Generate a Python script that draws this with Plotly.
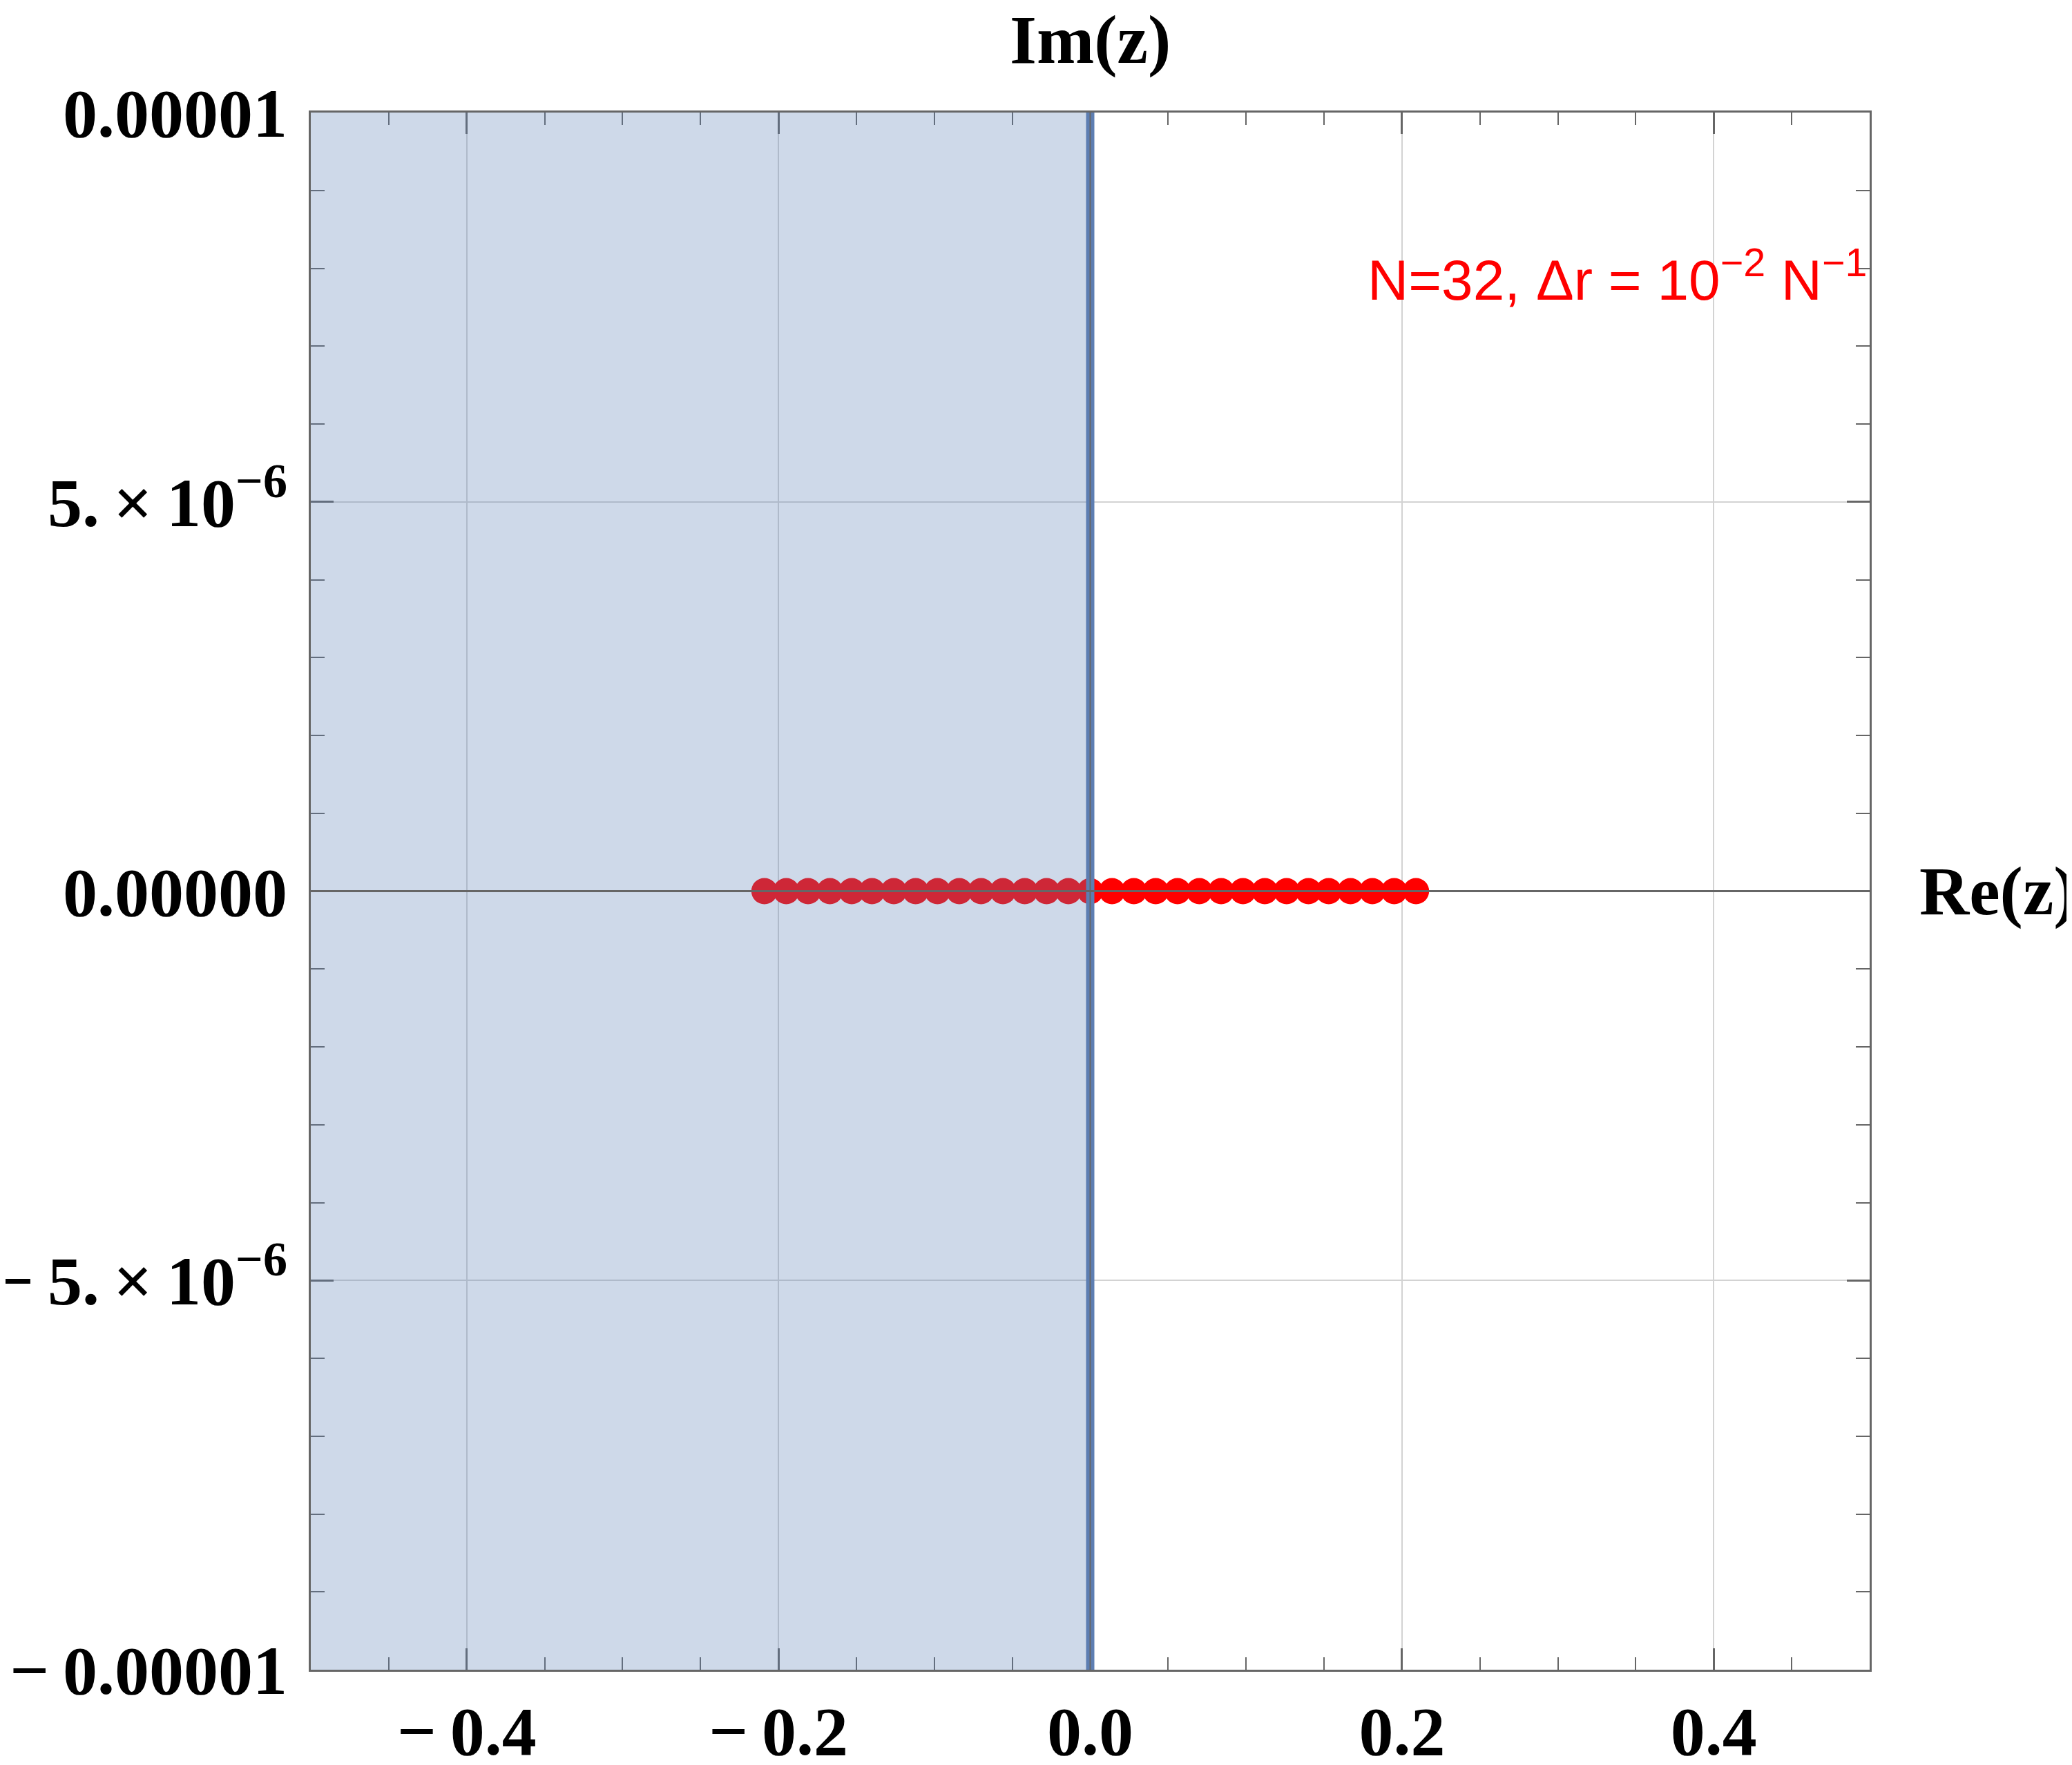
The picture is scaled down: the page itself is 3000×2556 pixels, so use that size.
import plotly.graph_objects as go

# Data
re_vals = [-0.209, -0.195, -0.181, -0.167, -0.153, -0.140, -0.126, -0.112, -0.098,
           -0.084, -0.070, -0.056, -0.042, -0.028, -0.014, 0.0,
           0.014, 0.028, 0.042, 0.056, 0.070, 0.084, 0.098, 0.112, 0.126,
           0.140, 0.153, 0.167, 0.181, 0.195, 0.209]
im_vals = [0.0] * len(re_vals)

x_tickvals = [-0.4, -0.2, 0.0, 0.2, 0.4]
x_ticktext = ["\u2212\u20090.4", "\u2212\u20090.2", "0.0", "0.2", "0.4"]
y_tickvals = [-1e-5, -5e-6, 0.0, 5e-6, 1e-5]
y_ticktext = ["\u2212\u20090.00001", "\u2212\u20095.\u2009\u00d7\u200910<sup>\u22126</sup>", "0.00000",
              "5.\u2009\u00d7\u200910<sup>\u22126</sup>", "0.00001"]

x_range = [-0.5, 0.5]
y_range = [-1e-5, 1e-5]

frame_col = "#666666"
grid_col = "#D3D3D3"
shade_col = "rgb(94,129,181)"
tick_font = dict(family="Liberation Serif", size=100, color="black", weight="bold")

fig = go.Figure()
fig.add_trace(go.Scatter(
    x=re_vals, y=im_vals, mode="markers",
    marker=dict(size=38, color="#FF0000", line=dict(width=0)),
    showlegend=False, hoverinfo="skip"))

fig.update_layout(
    width=2992, height=2548,
    margin=dict(l=442, r=293, t=155, b=138),
    paper_bgcolor="white", plot_bgcolor="white",
    showlegend=False,
    shapes=[
        dict(type="rect", xref="x", yref="y", x0=x_range[0], x1=0, y0=y_range[0], y1=y_range[1],
             fillcolor=shade_col, opacity=0.3, line=dict(width=0), layer="above"),
        dict(type="line", xref="x", yref="y", x0=0, x1=0, y0=y_range[0], y1=y_range[1],
             line=dict(color="rgb(93,126,178)", width=12), layer="above"),
        dict(type="line", xref="x", yref="y", x0=0, x1=0, y0=y_range[0], y1=y_range[1],
             line=dict(color=frame_col, width=2), layer="above"),
        dict(type="line", xref="x", yref="y", x0=x_range[0], x1=x_range[1], y0=0, y1=0,
             line=dict(color=frame_col, width=3), layer="above"),
    ],
    annotations=[
        dict(text="Im(z)", xref="paper", yref="paper", x=0.5, y=1.047, xanchor="center", yanchor="middle",
             showarrow=False, font=dict(family="Liberation Serif", size=100, color="black", weight="bold")),
        dict(text="Re(z)", xref="paper", yref="paper", x=1.031, y=0.5, xanchor="left", yanchor="middle",
             showarrow=False, font=dict(family="Liberation Serif", size=100, color="black", weight="bold")),
        dict(text="N=32, \u0394r = 10<sup>\u22122</sup> N<sup>\u22121</sup>", xref="x", yref="y",
             x=0.4995, y=7.9e-6, xanchor="right", yanchor="middle", showarrow=False,
             font=dict(family="Liberation Sans", size=82, color="#FF0000")),
    ],
)

fig.update_xaxes(
    range=x_range, tickvals=x_tickvals, ticktext=x_ticktext, tickfont=tick_font,
    ticks="inside", ticklen=31, tickwidth=3, tickcolor=frame_col,
    showline=True, linecolor=frame_col, linewidth=3, mirror="allticks",
    showgrid=True, gridcolor=grid_col, gridwidth=2, zeroline=False,
    ticklabelstandoff=0, automargin=False,
    minor=dict(dtick=0.05, tick0=0, ticks="inside", ticklen=18, tickwidth=2, tickcolor=frame_col, showgrid=False),
)
fig.update_yaxes(
    range=y_range, tickvals=y_tickvals, ticktext=y_ticktext, tickfont=tick_font,
    ticks="inside", ticklen=33, tickwidth=3, tickcolor=frame_col,
    showline=True, linecolor=frame_col, linewidth=3, mirror="allticks",
    showgrid=True, gridcolor=grid_col, gridwidth=2, zeroline=False,
    ticklabelstandoff=11, automargin=False,
    minor=dict(dtick=1e-6, tick0=0, ticks="inside", ticklen=20, tickwidth=2, tickcolor=frame_col, showgrid=False),
)

fig.write_html("out.html")
